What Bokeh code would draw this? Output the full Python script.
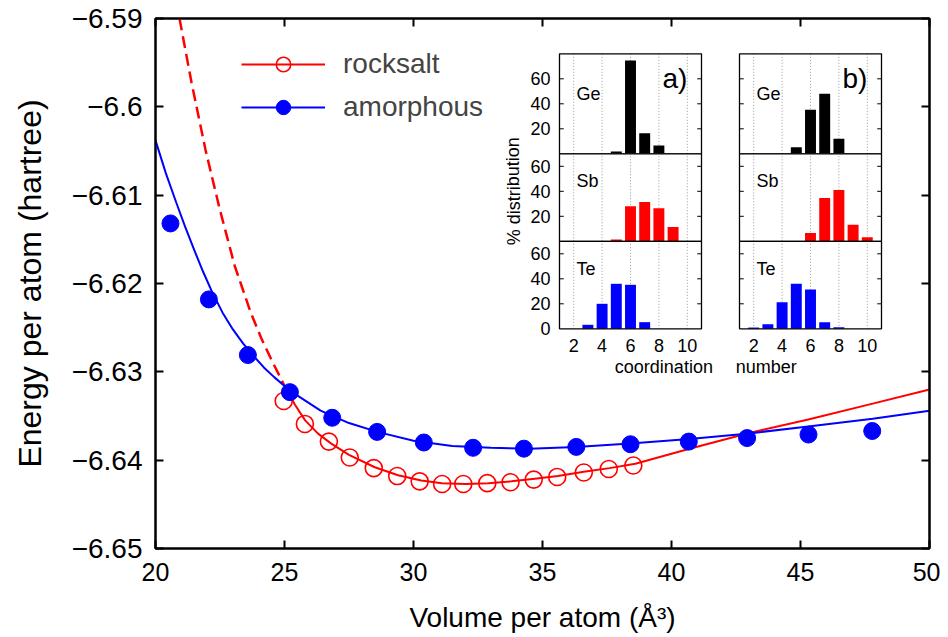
from bokeh.plotting import figure
from bokeh.models import (Range1d, LinearAxis, FixedTicker, CustomJSTickFormatter,
                          Legend, LegendItem)
from bokeh.core.properties import value
from bokeh.embed import file_html
from bokeh.resources import INLINE

# ---------------- data: main panel ----------------
rock_v = [24.97, 25.79, 26.72, 27.53, 28.46, 29.37, 30.24, 31.11, 31.93, 32.86,
          33.76, 34.66, 35.57, 36.60, 37.57, 38.52]
rock_e = [-6.6333, -6.6359, -6.6379, -6.6397, -6.6409, -6.6418, -6.6424, -6.6427,
          -6.6427, -6.6426, -6.6425, -6.6422, -6.6419, -6.6414, -6.6410, -6.6406]

amor_v = [20.58, 22.07, 23.58, 25.21, 26.85, 28.59, 30.40, 32.31, 34.28, 36.31,
          38.41, 40.67, 42.93, 45.31, 47.78]
amor_e = [-6.6132, -6.6218, -6.6281, -6.6323, -6.6352, -6.6368, -6.6380, -6.6386,
          -6.6387, -6.6385, -6.6382, -6.6379, -6.6375, -6.6371, -6.6367]

# fitted curves
rock_fit_v = [24.97, 25.4, 25.8, 26.3, 26.8, 27.5, 28.5, 29.4, 30.3, 31.1, 32.0, 32.9,
              33.8, 34.7, 35.6, 36.6, 37.6, 38.6, 40.7, 42.9, 45.3, 47.8, 50.0]
rock_fit_e = [-6.6314, -6.6337, -6.6355, -6.6370, -6.6381, -6.6394, -6.6408, -6.6417,
              -6.6423, -6.6426, -6.6427, -6.6426, -6.6424, -6.6421, -6.6418, -6.6413,
              -6.6409, -6.6404, -6.6387, -6.6370, -6.6354, -6.6336, -6.6320]
rock_ext_v = [20.93, 21.4, 21.94, 22.5, 23.07, 23.68, 24.1, 24.52, 24.97]
rock_ext_e = [-6.5900, -6.5973, -6.6049, -6.6117, -6.6180, -6.6232, -6.6262, -6.6288, -6.6314]

amor_fit_v = [20.0, 20.4, 20.8, 21.15, 21.5, 21.85, 22.2, 22.6, 23.0, 23.4, 23.8, 24.2,
              24.6, 25.0, 25.4, 26.4, 27.5, 28.6, 30.0, 31.5, 33.0, 34.5, 36.3, 38.4,
              40.7, 42.9, 45.3, 47.8, 50.0]
amor_fit_e = [-6.6038, -6.6075, -6.6108, -6.6136, -6.6162, -6.6187, -6.6210, -6.6233,
              -6.6252, -6.6268, -6.6282, -6.6295, -6.6306, -6.6316, -6.6325, -6.6344,
              -6.6358, -6.6368, -6.6378, -6.6384, -6.6386, -6.6387, -6.6385, -6.6381,
              -6.6376, -6.6370, -6.6362, -6.6353, -6.6344]

x_ticks = [20, 25, 30, 35, 40, 45, 50]
y_ticks = [-6.65, -6.64, -6.63, -6.62, -6.61, -6.60, -6.59]

# ---------------- data: insets (coordination histograms, %) ----------------
coord = [2, 3, 4, 5, 6, 7, 8, 9, 10]
ge_a = [0, 0, 0, 1.8, 74.6, 16.5, 6.6, 0, 0]
sb_a = [0, 0, 0, 1.5, 28.0, 31.5, 26.4, 11.4, 0]
te_a = [0, 3.2, 20.0, 36.0, 35.2, 5.3, 0, 0, 0]
ge_b = [0, 0, 0, 5.3, 35.2, 48.0, 12.0, 0, 0]
sb_b = [0, 0, 0, 0, 6.6, 34.6, 41.0, 13.3, 3.2]
te_b = [1.0, 3.7, 21.3, 36.0, 31.5, 5.3, 1.3, 0, 0]
inset_xticks = [2, 4, 6, 8, 10]
inset_yticks = [20, 40, 60]
elements = ["Ge", "Sb", "Te"]

FONT = value("Liberation Sans")

# ---------------- layout constants (page pixels; the page has no body margin) ----------------
W, H = 940, 637
FR_L, FR_R, FR_T, FR_B = 155, 929, 18, 548

p = figure(width=W, height=H, x_range=Range1d(20, 50), y_range=Range1d(-6.65, -6.59),
           output_backend="svg", toolbar_location=None,
           min_border_left=FR_L, min_border_right=W - FR_R,
           min_border_top=FR_T, min_border_bottom=H - FR_B)
p.xgrid.visible = False
p.ygrid.visible = False
p.outline_line_color = "black"
p.outline_line_width = 2
p.background_fill_color = "white"
p.border_fill_color = "white"

fmt = CustomJSTickFormatter(code="""
const s = Math.abs(tick).toFixed(2).replace(/0$/, '');
return (tick < 0 ? '\u2212' : '') + s;
""")

for ax in (p.xaxis[0], p.yaxis[0]):
    ax.major_tick_in = 8
    ax.major_tick_out = 0
    ax.minor_tick_line_color = None
    ax.axis_line_width = 2
    ax.major_tick_line_width = 2
    ax.major_label_text_font = "Liberation Sans"
    ax.major_label_text_color = "black"
    ax.axis_label_text_font = "Liberation Sans"
    ax.axis_label_text_font_style = "normal"
    ax.axis_label_text_color = "black"

p.xaxis[0].ticker = FixedTicker(ticks=x_ticks)
p.yaxis[0].ticker = FixedTicker(ticks=y_ticks)
p.yaxis[0].formatter = fmt
p.xaxis[0].major_label_text_font_size = "25px"
p.yaxis[0].major_label_text_font_size = "28px"
p.xaxis[0].axis_label = "Volume per atom (Å³)"
p.yaxis[0].axis_label = "Energy per atom (hartree)"
p.xaxis[0].axis_label_text_font_size = "28px"
p.yaxis[0].axis_label_text_font_size = "32px"
p.xaxis[0].major_label_standoff = 14
p.yaxis[0].major_label_standoff = 13
p.xaxis[0].axis_label_standoff = 18
p.yaxis[0].axis_label_standoff = 21

blank = CustomJSTickFormatter(code="return ''")
for loc, tk in (("above", x_ticks), ("right", y_ticks)):
    ax = LinearAxis(ticker=FixedTicker(ticks=tk), formatter=blank, major_tick_in=8,
                    major_tick_out=0, minor_tick_line_color=None, major_label_standoff=0,
                    axis_line_width=2, major_tick_line_width=2)
    p.add_layout(ax, loc)

# ---------------- main curves ----------------
p.line(rock_ext_v, rock_ext_e, line_color="#ff0000", line_width=2.5, line_dash="12 6")
r_fit = p.line(rock_fit_v, rock_fit_e, line_color="#ff0000", line_width=2)
a_fit = p.line(amor_fit_v, amor_fit_e, line_color="#0000ff", line_width=2)
r_pts = p.scatter(rock_v, rock_e, size=17, marker="circle", fill_alpha=0,
                  line_color="#ff0000", line_width=1.6)
a_pts = p.scatter(amor_v, amor_e, size=17, marker="circle", fill_color="#0000ff",
                  line_color="#0000ff")

legend = Legend(items=[LegendItem(label="rocksalt", renderers=[r_fit, r_pts]),
                       LegendItem(label="amorphous", renderers=[a_fit, a_pts])],
                location=(86, 423), padding=0, margin=0, spacing=7,
                glyph_width=84, glyph_height=36, label_height=36, label_standoff=18,
                label_text_font="Liberation Sans", label_text_font_size="28px",
                border_line_color=None, background_fill_alpha=0)
p.add_layout(legend)

# ---------------- insets drawn through extra ranges ----------------
XU, YU = 14.2, 1.25          # px per inset unit
PANEL_TOP_PX = 53.3
panel_tops = [80, 70, 70]
inset_left_px = {"a": 559, "b": 739}
inset_data = {"a": [ge_a, sb_a, te_a], "b": [ge_b, sb_b, te_b]}
bar_colors = ["black", "#ff0000", "#0000ff"]

panel_bottom_px = []
acc = PANEL_TOP_PX
for t in panel_tops:
    acc += t * YU
    panel_bottom_px.append(acc)

for k, x0 in inset_left_px.items():
    start = 1 - (x0 - FR_L) / XU
    p.extra_x_ranges["i" + k] = Range1d(start, start + (FR_R - FR_L) / XU)
for i, el in enumerate(elements):
    pb = panel_bottom_px[i]
    p.extra_y_ranges[el] = Range1d(-(FR_B - pb) / YU, (pb - FR_T) / YU)

for k in inset_left_px:
    xr = "i" + k
    for i, el in enumerate(elements):
        top = panel_tops[i]
        kw = dict(x_range_name=xr, y_range_name=el)
        p.quad(left=[1], right=[11], bottom=[0], top=[top], fill_color="white",
               line_color=None, **kw)
        p.segment(x0=inset_xticks, x1=inset_xticks, y0=[0] * 5, y1=[top] * 5,
                  line_color="#999999", line_width=1, line_dash="1 2", **kw)
        p.vbar(x=coord, top=inset_data[k][i], width=0.77, bottom=0,
               fill_color=bar_colors[i], line_color=None, **kw)
        p.segment(x0=[1] * 3, x1=[1.3] * 3, y0=inset_yticks, y1=inset_yticks,
                  line_color="black", line_width=1, **kw)
        p.segment(x0=[11] * 3, x1=[10.7] * 3, y0=inset_yticks, y1=inset_yticks,
                  line_color="black", line_width=1, **kw)
        p.quad(left=[1], right=[11], bottom=[0], top=[top], fill_color=None,
               line_color="black", line_width=1.3, **kw)
        p.text(x=[2.2], y=[48], text=[el], text_font=FONT, text_font_size="18px",
               text_baseline="middle", text_align="left", **kw)
        if k == "a":
            yt = inset_yticks + ([0] if el == "Te" else [])
            p.text(x=[1] * len(yt), y=yt, text=[str(v) for v in yt], x_offset=-9,
                   text_font=FONT, text_font_size="18px", text_baseline="middle",
                   text_align="right", **kw)
    p.text(x=inset_xticks, y=[0] * 5, text=[str(v) for v in inset_xticks], y_offset=17,
           text_font=FONT, text_font_size="18px", text_baseline="middle",
           text_align="center", x_range_name=xr, y_range_name="Te")
    p.text(x=[10], y=[60], text=[k + ")"], text_font=FONT, text_font_size="28px",
           text_baseline="middle", text_align="right", x_range_name=xr, y_range_name="Ge")

p.text(x=[1], y=[40], text=["% distribution"], angle=1.5708, x_offset=-46,
       text_font=FONT, text_font_size="18px", text_baseline="middle", text_align="center",
       x_range_name="ia", y_range_name="Sb")
p.text(x=[8.35], y=[0], text=["coordination"], y_offset=38, text_font=FONT,
       text_font_size="18px", text_baseline="middle", text_align="center",
       x_range_name="ia", y_range_name="Te")
p.text(x=[2.89], y=[0], text=["number"], y_offset=38, text_font=FONT,
       text_font_size="18px", text_baseline="middle", text_align="center",
       x_range_name="ib", y_range_name="Te")

open("out.html", "w").write(file_html(p, INLINE))
